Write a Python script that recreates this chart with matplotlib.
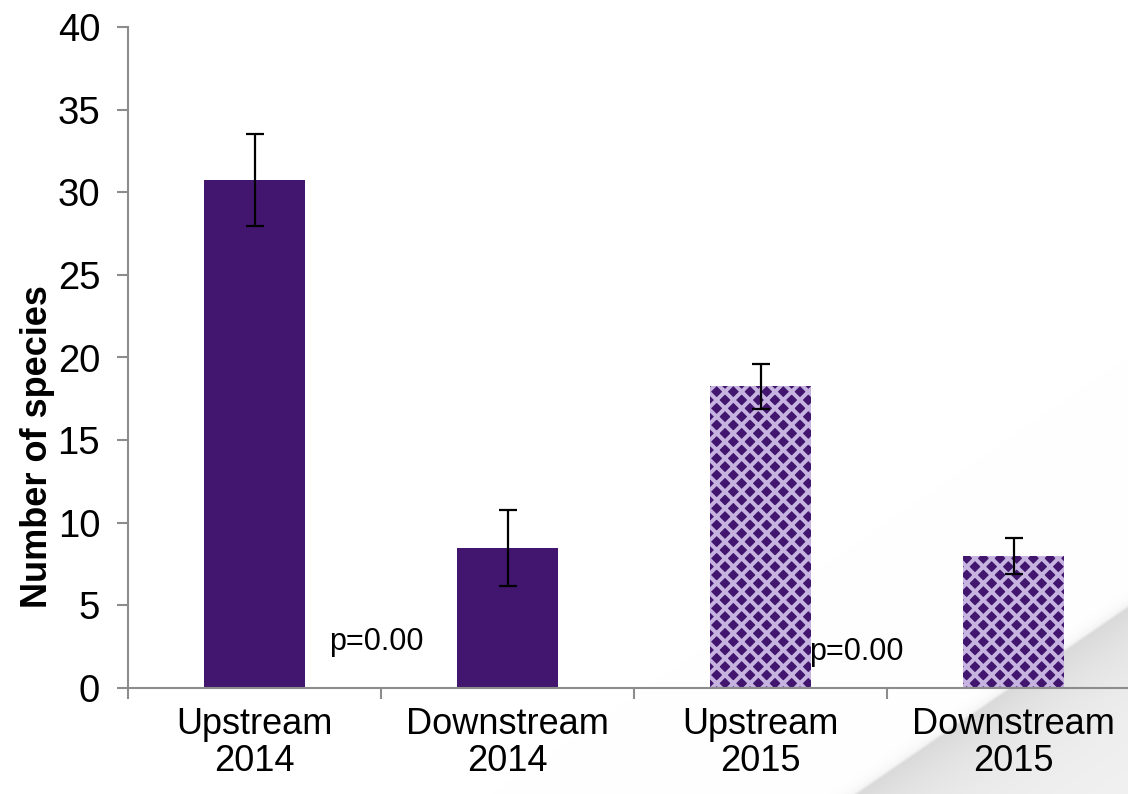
import numpy as np
import matplotlib
matplotlib.use("Agg")
import matplotlib.pyplot as plt

# Data
categories = ["Upstream\n2014", "Downstream\n2014", "Upstream\n2015", "Downstream\n2015"]
species = [30.75, 8.5, 18.25, 8.0]
errors = [2.8, 2.3, 1.35, 1.1]
p_labels = ["p=0.00", "p=0.00"]
p_positions = [(0.48, 2.8), (2.38, 2.2)]
y_ticks = [0, 5, 10, 15, 20, 25, 30, 35, 40]

plt.rcParams["font.family"] = ["Liberation Sans", "DejaVu Sans"]
plt.rcParams["hatch.linewidth"] = 2.8

purple = "#42166f"
lavender = "#c6b3df"

W, H = 1128, 794
fig = plt.figure(figsize=(W / 100, H / 100), dpi=100)

# Page background with a curled bottom-right corner
bg = fig.add_axes([0, 0, 1, 1], zorder=0)
bg.set_xlim(0, W)
bg.set_ylim(H, 0)
bg.axis("off")
gx, gy = np.meshgrid(np.arange(W) + 0.5, np.arange(H) + 0.5)
x0, y0, x1, y1 = 853.0, 794.0, 1128.0, 605.0
nx, ny = (y1 - y0), -(x1 - x0)
norm = np.hypot(nx, ny)
d = -((gx - x0) * nx + (gy - y0) * ny) / norm  # >0 on the flap side
shade = np.ones_like(d)
left = d <= 0
shade[left] = 1.0 - 0.04 * np.exp(d[left] / 6.0)
edge = np.clip(d[~left] / 3.0, 0, 1)
flap = 0.85 + 0.10 * (1 - np.exp(-d[~left] / 55.0))
shade[~left] = (1 - edge) * 0.96 + edge * flap
rgb = np.dstack([shade, shade, shade])
bg.imshow(rgb, extent=(0, W, H, 0), aspect="auto", interpolation="bilinear")

ax = fig.add_axes([128 / W, 1 - 688 / H, 1 - 128 / W, (688 - 27) / H], zorder=1)
ax.patch.set_alpha(0)

x = np.arange(len(categories))
hatches = [None, None, "xx", "xx"]
for xi, val, err, h in zip(x, species, errors, hatches):
    if h is None:
        ax.bar(xi, val, width=0.40, color=purple, linewidth=0, zorder=2)
    else:
        ax.bar(xi, val, width=0.40, facecolor=purple, edgecolor=lavender,
               hatch=h, linewidth=0, zorder=2)
    ax.errorbar(xi, val, yerr=err, fmt="none", ecolor="black",
                elinewidth=1.6, capsize=6.5, capthick=1.6, zorder=3)

for (px, py), txt in zip(p_positions, p_labels):
    ax.text(px, py, txt, fontsize=22, ha="center", va="center", zorder=4)

ax.set_ylim(0, 40)
ax.set_xlim(-0.5, -0.5 + 1000 / 253)
ax.set_yticks(y_ticks)
ax.set_yticklabels([str(t) for t in y_ticks], fontsize=27.5)
ax.set_xticks(x)
ax.set_xticklabels(categories, fontsize=26, linespacing=1.05)
ax.tick_params(axis="x", which="major", length=0, pad=14)
ax.set_xticks(np.arange(-0.5, 3.5, 1.0), minor=True)
ax.tick_params(axis="x", which="minor", length=8, color="#8c8c8c", width=1.5)
ax.tick_params(axis="y", length=8, color="#8c8c8c", width=1.5, pad=12)

for side in ["top", "right"]:
    ax.spines[side].set_visible(False)
for side in ["left", "bottom"]:
    ax.spines[side].set_color("#8c8c8c")
    ax.spines[side].set_linewidth(1.5)

ax.set_ylabel("Number of species", fontsize=26, fontweight="bold")
ax.yaxis.set_label_coords(-0.073, 0.365)

fig.savefig("out.png", dpi=100)
